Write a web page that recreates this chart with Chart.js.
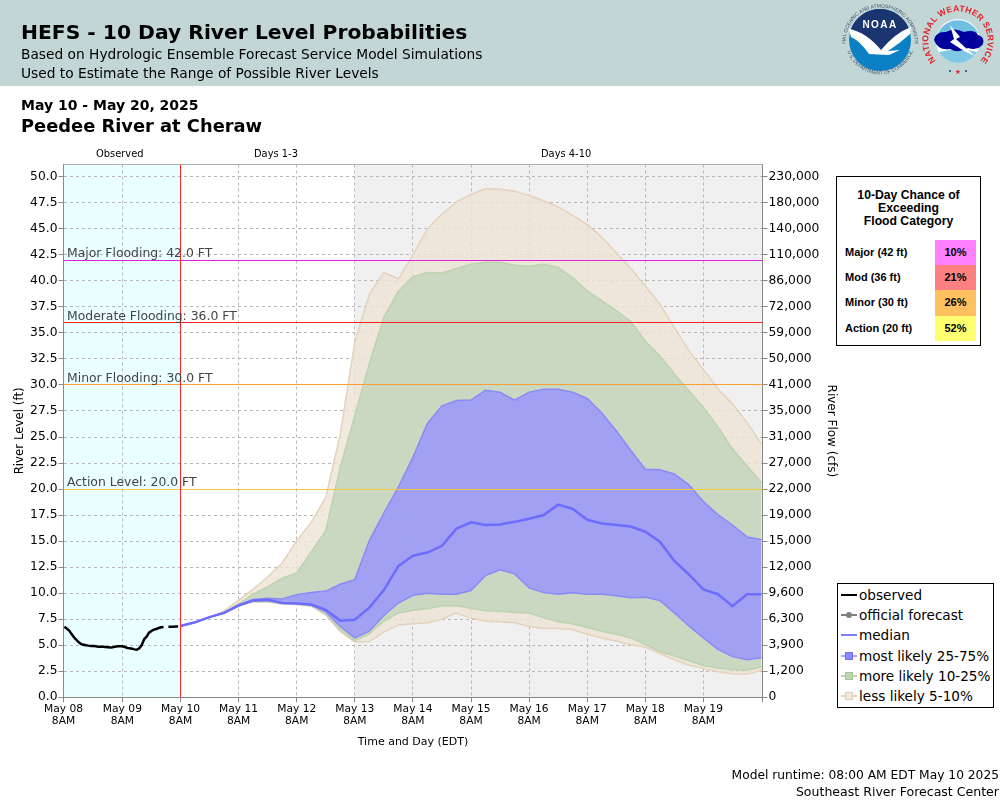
<!DOCTYPE html>
<html>
<head>
<meta charset="utf-8">
<title>HEFS - 10 Day River Level Probabilities</title>
<script src="https://cdn.jsdelivr.net/npm/chart.js@4/dist/chart.umd.min.js"></script>
<style>
    html, body { margin: 0; padding: 0; background: #fff; }
    body { width: 1000px; height: 800px; position: relative; overflow: hidden; font-family: "DejaVu Sans", sans-serif; color: #000; }
    #banner { position: absolute; left: 0; top: 0; width: 1000px; height: 86px; background: #c2d7d5; }
    .txt { position: absolute; white-space: nowrap; }
    #chart { position: absolute; left: 0; top: 0; }
    #logos { position: absolute; left: 840px; top: 0; }
    #floodBox { position: absolute; left: 836px; top: 176px; width: 143px; height: 168px; border: 1px solid #000; background: #fff; font-family: "Liberation Sans", sans-serif; font-weight: bold; }
    #floodBox .head { position: absolute; left: 0; top: 12px; width: 100%; text-align: center; font-size: 12.2px; line-height: 13px; }
    #floodBox .row { position: absolute; left: 8px; font-size: 11px; line-height: 24px; height: 25px; }
    #floodBox .pct { position: absolute; left: 98px; width: 41px; height: 25.4px; text-align: center; font-size: 11px; line-height: 24px; }
    #legendBox { position: absolute; left: 837px; top: 583px; width: 155px; height: 123px; border: 1px solid #000; background: #fff; font-size: 13.6px; }
    #legendBox .item { position: absolute; left: 21px; line-height: 20px; white-space: nowrap; }
    #legendBox svg { position: absolute; left: 2px; width: 18px; height: 12px; }
</style>
</head>
<body>
<div id="banner"></div>
<canvas id="chart" width="1000" height="800"></canvas>

<svg id="logos" width="160" height="86" viewBox="840 0 160 86">
    <defs>
        <path id="noaaTop" d="M 845.5 42 A 34.5 34.5 0 0 1 914.5 42"/>
        <path id="noaaBot" d="M 847 51 A 35 35 0 0 0 913 51"/>
        <path id="nwsRing" d="M 936 61 A 29.7 29.7 0 1 1 980 61"/>
    </defs>
    <circle cx="880" cy="40" r="31" fill="#0b80c4"/>
    <path d="M 851 29 A 31 31 0 0 1 909 29 Q 895 34 880 52 Q 866 34 851 29 Z" fill="#1b3571"/>
    <path d="M 849 29 Q 866 32 881 50 Q 895 33 911 27 L 910 34 Q 899 44 888 51 L 900 50 L 889 55 L 869 54 Q 860 41 851 37 Z" fill="#fff"/>
    <text x="880" y="28" text-anchor="middle" font-family="Liberation Sans" font-weight="bold" font-size="10" letter-spacing="1.4" fill="#fff">NOAA</text>
    <text font-family="Liberation Sans" font-size="5" fill="#41506a"><textPath href="#noaaTop" startOffset="50%" text-anchor="middle">NATIONAL OCEANIC AND ATMOSPHERIC ADMINISTRATION</textPath></text>
    <text font-family="Liberation Sans" font-size="5" fill="#41506a"><textPath href="#noaaBot" startOffset="50%" text-anchor="middle">U.S. DEPARTMENT OF COMMERCE</textPath></text>

    <circle cx="958" cy="41" r="22" fill="#fff"/>
    <path d="M 938 33 A 22 22 0 0 1 978 33 Z" fill="#6fbfe0"/>
    <path d="M 939 52 A 22 22 0 0 0 977 52 Q 958 47 939 52 Z" fill="#7fc8e6"/>
    <path d="M 934 40 Q 936 31 946 32 Q 954 27 964 32 Q 975 29 978 35 Q 985 37 983 44 Q 978 51 968 48 Q 958 54 950 49 Q 938 51 934 40 Z" fill="#00009c"/>
    <path d="M 950 25 L 960 37 L 956 39 L 968 50 L 975 56 L 964 51 L 950 42 L 954 39 Z" fill="#fff"/>
    <text font-family="Liberation Sans" font-weight="bold" font-size="8.6" letter-spacing="0.3" fill="#e4202c"><textPath href="#nwsRing" startOffset="50%" text-anchor="middle">NATIONAL WEATHER SERVICE</textPath></text>
    <text x="958" y="74" text-anchor="middle" font-family="DejaVu Sans" font-size="7" fill="#e4202c">★</text>
    <circle cx="950" cy="71" r="1" fill="#1b3571"/>
    <circle cx="966" cy="71" r="1" fill="#1b3571"/>
</svg>

<div id="floodBox"><div class="head">10-Day Chance of<br>Exceeding<br>Flood Category</div></div>
<div id="legendBox"></div>

<script>
// hours since May 08 8AM, forecast every 6 hours from May 10 8AM
const bandHours = [48, 54, 60, 66, 72, 78, 84, 90, 96, 102, 108, 114, 120, 126, 132, 138, 144, 150, 156, 162, 168, 174, 180, 186, 192, 198, 204, 210, 216, 222, 228, 234, 240, 246, 252, 258, 264, 270, 276, 282, 288];

const median = [6.85, 7.2, 7.7, 8.1, 8.8, 9.3, 9.37, 9.05, 9.0, 8.9, 8.4, 7.35, 7.45, 8.6, 10.3, 12.6, 13.6, 13.9, 14.55, 16.2, 16.8, 16.55, 16.6, 16.85, 17.15, 17.5, 18.5, 18.1, 17.05, 16.7, 16.55, 16.4, 15.9, 14.95, 13.1, 11.8, 10.35, 9.9, 8.75, 9.9, 9.9];
const p75 = [6.85, 7.2, 7.7, 8.1, 8.9, 9.4, 9.5, 9.45, 9.85, 10.07, 10.2, 10.85, 11.3, 15.05, 17.7, 20.2, 23.05, 26.3, 28.0, 28.5, 28.55, 29.5, 29.3, 28.55, 29.3, 29.6, 29.6, 29.3, 28.7, 27.3, 25.6, 23.7, 21.9, 21.85, 21.45, 20.4, 18.8, 17.55, 16.55, 15.4, 15.15];
const p25 = [6.85, 7.2, 7.7, 8.1, 8.8, 9.25, 9.3, 9.05, 9.0, 8.85, 8.2, 6.8, 5.7, 6.35, 7.85, 9.05, 9.8, 10.0, 9.9, 9.9, 10.25, 11.7, 12.25, 11.85, 10.5, 10.05, 9.9, 10.05, 9.9, 9.9, 9.75, 9.55, 9.6, 9.3, 8.1, 6.85, 5.7, 4.6, 3.9, 3.6, 3.8];
const p90 = [6.85, 7.2, 7.7, 8.2, 8.95, 9.9, 10.6, 11.45, 11.95, 13.95, 16.0, 22.1, 27.05, 32.05, 36.5, 39.0, 40.4, 40.8, 40.75, 41.2, 41.6, 41.8, 41.8, 41.5, 41.4, 41.6, 41.3, 40.3, 39.05, 38.1, 37.15, 36.1, 34.2, 32.8, 31.05, 29.45, 27.85, 25.95, 23.85, 22.25, 20.6];
const p10 = [6.85, 7.2, 7.7, 8.1, 8.85, 9.2, 9.2, 9.0, 8.95, 8.8, 8.0, 6.5, 5.45, 6.1, 7.3, 8.1, 8.35, 8.5, 8.8, 8.8, 8.55, 8.3, 8.25, 8.15, 8.1, 7.65, 7.25, 7.05, 6.7, 6.35, 6.05, 5.7, 5.05, 4.4, 3.95, 3.5, 3.05, 2.8, 2.65, 2.6, 2.9];
const p95 = [6.85, 7.2, 7.7, 8.3, 9.3, 10.4, 11.55, 12.9, 15.05, 16.8, 19.2, 25.3, 34.1, 38.7, 40.8, 40.2, 42.5, 45.0, 46.4, 47.6, 48.3, 48.85, 48.8, 48.6, 48.2, 47.7, 47.1, 46.3, 45.4, 44.2, 42.7, 41.2, 39.5, 37.8, 35.5, 33.3, 31.5, 29.6, 28.2, 26.4, 24.3];
const p5 = [6.85, 7.2, 7.7, 8.1, 8.8, 9.15, 9.15, 8.95, 8.9, 8.75, 7.9, 6.3, 5.3, 5.35, 6.25, 6.95, 7.05, 7.15, 7.5, 8.1, 7.6, 7.3, 7.25, 7.15, 6.8, 6.6, 6.6, 6.5, 6.05, 5.7, 5.4, 5.05, 4.8, 4.2, 3.6, 3.1, 2.75, 2.45, 2.25, 2.2, 2.6];

// hourly observations, null where the record has a gap
const obsHours = [0, 1, 2, 3, 4, 5, 6, 7, 8, 9, 10, 11, 12, 13, 14, 15, 16, 17, 18, 19, 20, 21, 22, 23, 24, 25, 26, 27, 28, 29, 30, 31, 32, 33, 34, 35, 36, 37, 38, 39, 40, 41, 42, 43, 44, 45, 46, 47, 48];
const obsLevels = [6.78, 6.6, 6.4, 6.08, 5.76, 5.5, 5.28, 5.1, 5.05, 5.0, 4.96, 4.93, 4.93, 4.9, 4.86, 4.86, 4.86, 4.83, 4.8, 4.77, 4.8, 4.86, 4.9, 4.9, 4.9, 4.83, 4.73, 4.7, 4.67, 4.6, 4.57, 4.7, 5.02, 5.57, 5.82, 6.2, 6.37, 6.5, 6.56, 6.65, 6.72, 6.75, null, 6.78, 6.78, 6.78, 6.8, 6.8, null];

const dayTicks = ['May 08', 'May 09', 'May 10', 'May 11', 'May 12', 'May 13', 'May 14', 'May 15', 'May 16', 'May 17', 'May 18', 'May 19', ''];
const flowTicks = ['0', '1,200', '3,900', '6,300', '9,600', '12,000', '15,000', '19,000', '22,000', '27,000', '31,000', '35,000', '41,000', '50,000', '59,000', '72,000', '86,000', '110,000', '140,000', '180,000', '230,000'];

const floodNames = ['Major Flooding', 'Moderate Flooding', 'Minor Flooding', 'Action Level'];
const floodLevels = [42, 36, 30, 20];
const floodChance = ['10%', '21%', '26%', '52%'];
const floodRows = ['Major (42 ft)', 'Mod (36 ft)', 'Minor (30 ft)', 'Action (20 ft)'];
const legendNames = ['observed', 'official forecast', 'median', 'most likely 25-75%', 'more likely 10-25%', 'less likely 5-10%'];

const OBS_END = 48, DAY4_START = 120, AXIS_MAX = 51.18, X_MIN = -0.33, X_MAX = 288.41;
const floodColors = ['#e020e0', '#ff2020', '#ffa030', '#f5c842'];
const floodCells = ['#ff80ff', '#ff8080', '#ffc060', '#ffff70'];
const legendMarks = [
    { line: '#000', w: 2 },
    { line: '#808080', w: 2, dot: '#808080' },
    { line: '#7c7cff', w: 2 },
    { line: '#a8a8ff', w: 2, box: '#8a8aff', edge: '#7070ee' },
    { line: '#bcd8b0', w: 2, box: '#bcd8b0', edge: '#a4c498' },
    { line: '#e6d2bc', w: 2, box: '#f0e6da', edge: '#e0ccb4' }
];

// --- text around the chart
function addText(str, x, y, css) {
    const el = document.createElement('div');
    el.className = 'txt';
    el.textContent = str;
    el.style.left = x + 'px';
    el.style.top = y + 'px';
    el.style.cssText += css;
    document.body.appendChild(el);
    return el;
}
addText('HEFS - 10 Day River Level Probabilities', 21, 19, 'font-size:20.3px;font-weight:bold;line-height:27px;');
addText('Based on Hydrologic Ensemble Forecast Service Model Simulations', 21, 45, 'font-size:13.75px;line-height:18px;');
addText('Used to Estimate the Range of Possible River Levels', 21, 64, 'font-size:13.75px;line-height:18px;');
addText('May 10 - May 20, 2025', 21, 96, 'font-size:14px;font-weight:bold;line-height:18px;');
addText('Peedee River at Cheraw', 21, 114, 'font-size:17.85px;font-weight:bold;line-height:23px;');
addText('Observed', 96, 148, 'font-size:9.9px;line-height:12px;');
addText('Days 1-3', 254, 148, 'font-size:9.9px;line-height:12px;');
addText('Days 4-10', 541, 148, 'font-size:9.9px;line-height:12px;');
addText('Model runtime: 08:00 AM EDT May 10 2025', 0, 767, 'left:auto;right:1px;font-size:12.25px;line-height:16px;');
addText('Southeast River Forecast Center', 0, 784, 'left:auto;right:1px;font-size:12.55px;line-height:16px;');

// --- flood category table
const floodBox = document.getElementById('floodBox');
floodRows.forEach(function(name, i) {
    const rowTop = 63 + i * 25.2;
    const row = document.createElement('div');
    row.className = 'row';
    row.style.top = rowTop + 'px';
    row.textContent = name;
    floodBox.appendChild(row);
    const pct = document.createElement('div');
    pct.className = 'pct';
    pct.style.top = rowTop + 'px';
    pct.style.background = floodCells[i];
    pct.textContent = floodChance[i];
    floodBox.appendChild(pct);
});

// --- legend
const legendBox = document.getElementById('legendBox');
legendNames.forEach(function(name, i) {
    const top = 1 + i * 20.2;
    const mark = legendMarks[i];
    let inner = '<line x1="1" x2="17" y1="6" y2="6" stroke="' + mark.line + '" stroke-width="' + mark.w + '"/>';
    if (mark.dot) inner += '<circle cx="9" cy="6" r="3" fill="' + mark.dot + '"/>';
    if (mark.box) inner += '<rect x="5.5" y="2.5" width="7" height="7" fill="' + mark.box + '" stroke="' + mark.edge + '"/>';
    legendBox.insertAdjacentHTML('beforeend',
        '<svg style="top:' + (top + 4) + 'px" viewBox="0 0 18 12">' + inner + '</svg>' +
        '<div class="item" style="top:' + top + 'px">' + name + '</div>');
});

// --- chart
function series(hours, values) {
    return hours.map(function(h, i) { return { x: h, y: values[i] }; });
}
function band(label, values, edge, fill, order, target) {
    return {
        label: label,
        data: series(bandHours, values),
        borderColor: edge,
        borderWidth: 1.5,
        pointRadius: 0,
        tension: 0,
        fill: target === undefined ? false : { target: target },
        backgroundColor: fill,
        order: order
    };
}

const datasets = [
    band('less likely top', p95, '#e5d2bc', 'rgba(238,226,214,0.8)', 60, 1),
    band('less likely bottom', p5, '#e5d2bc', 'transparent', 59),
    band('more likely top', p90, '#bcd3ae', 'rgba(192,212,188,0.8)', 58, 3),
    band('more likely bottom', p10, '#bcd3ae', 'transparent', 57),
    band('most likely top', p75, '#8a8af6', 'rgba(150,146,255,0.8)', 56, 5),
    band('most likely bottom', p25, '#8a8af6', 'transparent', 55),
    {
        label: 'median',
        data: series(bandHours, median),
        borderColor: '#6c6cff',
        borderWidth: 2.5,
        pointRadius: 0,
        tension: 0,
        order: 20
    },
    {
        label: 'observed',
        data: series(obsHours, obsLevels),
        borderColor: '#000',
        borderWidth: 2.5,
        pointRadius: 0,
        tension: 0,
        spanGaps: false,
        order: 2
    }
];

const plotBackground = {
    id: 'plotBackground',
    beforeDraw: function(chart) {
        const ctx = chart.ctx, area = chart.chartArea, x = chart.scales.x;
        ctx.save();
        ctx.fillStyle = '#eaffff';
        ctx.fillRect(area.left, area.top, x.getPixelForValue(OBS_END) - area.left, area.height);
        ctx.fillStyle = '#f0f0f0';
        ctx.fillRect(x.getPixelForValue(DAY4_START), area.top, area.right - x.getPixelForValue(DAY4_START), area.height);
        ctx.restore();
    }
};

// flood lines and the forecast start line are 1px crisp, so they snap to the pixel grid
const plotOverlay = {
    id: 'plotOverlay',
    afterDatasetsDraw: function(chart) {
        const ctx = chart.ctx, area = chart.chartArea, x = chart.scales.x, y = chart.scales.y;
        ctx.save();
        ctx.lineWidth = 1;
        floodLevels.forEach(function(level, i) {
            const py = Math.floor(y.getPixelForValue(level)) + 0.5;
            ctx.strokeStyle = floodColors[i];
            ctx.beginPath();
            ctx.moveTo(area.left, py);
            ctx.lineTo(area.right, py);
            ctx.stroke();
        });
        const startX = Math.floor(x.getPixelForValue(OBS_END)) + 0.5;
        ctx.strokeStyle = '#ff2020';
        ctx.beginPath();
        ctx.moveTo(startX, area.top);
        ctx.lineTo(startX, area.bottom);
        ctx.stroke();
        ctx.restore();
    },
    afterDraw: function(chart) {
        const ctx = chart.ctx, area = chart.chartArea, y = chart.scales.y;
        ctx.save();
        ctx.strokeStyle = '#b0b0b0';
        ctx.lineWidth = 1;
        ctx.beginPath();
        ctx.moveTo(area.left, area.top);
        ctx.lineTo(area.right, area.top);
        ctx.stroke();
        // flood level captions sit just above their lines
        ctx.fillStyle = '#444';
        ctx.font = '12.4px "DejaVu Sans"';
        ctx.textBaseline = 'alphabetic';
        floodNames.forEach(function(name, i) {
            ctx.fillText(name + ': ' + floodLevels[i].toFixed(1) + ' FT', 67, y.getPixelForValue(floodLevels[i]) - 3);
        });
        ctx.restore();
    }
};

const axisFont = { family: '"DejaVu Sans"', size: 12.3 };
const gridDash = [3, 3];

new Chart(document.getElementById('chart').getContext('2d'), {
    type: 'line',
    data: { datasets: datasets },
    plugins: [plotBackground, plotOverlay],
    options: {
        responsive: false,
        animation: false,
        events: [],
        layout: { padding: { left: 0, top: 164.5, right: 160, bottom: 51 } },
        plugins: { legend: { display: false }, tooltip: { enabled: false } },
        scales: {
            x: {
                type: 'linear',
                min: X_MIN,
                max: X_MAX,
                afterFit: function(scale) { scale.height = 51.75; },
                afterBuildTicks: function(scale) {
                    scale.ticks = dayTicks.map(function(d, i) {
                        if (i === 0) return { value: X_MIN };
                        return { value: i === dayTicks.length - 1 ? X_MAX : i * 24 };
                    });
                },
                ticks: {
                    autoSkip: false,
                    maxRotation: 0,
                    padding: 1,
                    color: '#000',
                    font: { family: '"DejaVu Sans"', size: 10.7, lineHeight: 1.1 },
                    callback: function(value, index) {
                        const day = dayTicks[index];
                        return day ? [day, '8AM'] : '';
                    }
                },
                grid: { color: '#b8b8b8', tickColor: '#888', tickLength: 5, tickBorderDash: [] },
                border: { color: '#888', dash: gridDash },
                title: { display: true, text: 'Time and Day (EDT)', color: '#000', font: { family: '"DejaVu Sans"', size: 11 }, padding: 0 }
            },
            y: {
                position: 'left',
                min: 0,
                max: AXIS_MAX,
                afterFit: function(scale) { scale.width = 63.5; },
                ticks: {
                    stepSize: 2.5,
                    includeBounds: false,
                    padding: 1,
                    color: '#000',
                    font: axisFont,
                    callback: function(value) { return value.toFixed(1); }
                },
                grid: { color: '#b8b8b8', tickColor: '#888', tickLength: 5, tickBorderDash: [] },
                border: { color: '#888', dash: gridDash },
                title: { display: true, text: 'River Level (ft)', color: '#000', font: { family: '"DejaVu Sans"', size: 11.8 }, padding: { top: 13, bottom: 0 } }
            },
            y2: {
                position: 'right',
                min: 0,
                max: AXIS_MAX,
                afterFit: function(scale) { scale.width = 77.5; },
                ticks: {
                    stepSize: 2.5,
                    includeBounds: false,
                    padding: 1,
                    color: '#000',
                    font: axisFont,
                    callback: function(value) { return flowTicks[Math.round(value / 2.5)]; }
                },
                grid: { drawOnChartArea: false, tickColor: '#888', tickLength: 5 },
                border: { color: '#888' },
                title: { display: true, text: 'River Flow (cfs)', color: '#000', font: { family: '"DejaVu Sans"', size: 12 }, padding: { top: 2, bottom: 0 } }
            }
        }
    }
});
</script>
</body>
</html>
